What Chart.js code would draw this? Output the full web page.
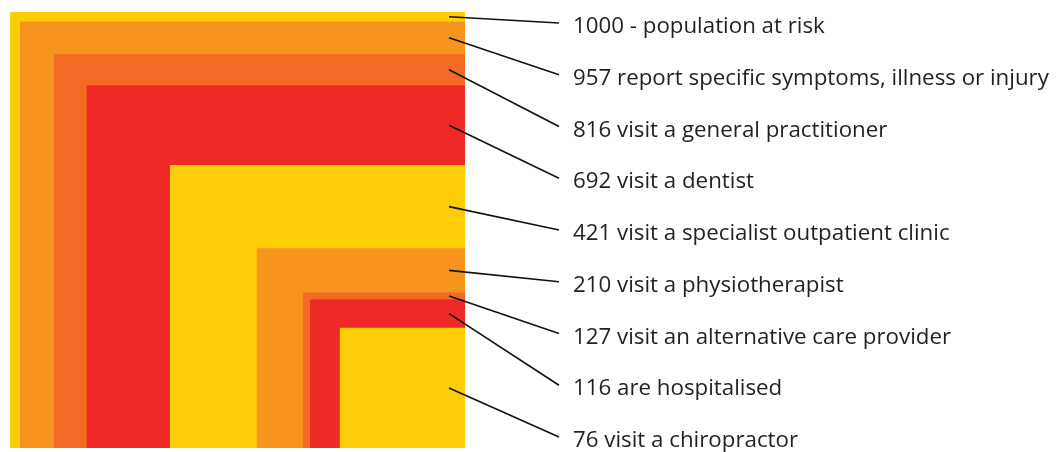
<!DOCTYPE html>
<html>
<head>
<meta charset="utf-8">
<script src="https://cdn.jsdelivr.net/npm/chart.js@4.4.1/dist/chart.umd.min.js"></script>
<style>
  html, body { margin: 0; padding: 0; background: #fff; }
  #wrap { width: 1057px; height: 452px; position: relative; }
</style>
</head>
<body>
<div id="wrap"><canvas id="myChart"></canvas></div>
<script>
// people out of 1000, each group drawn as a square anchored bottom-right
const values = [1000, 957, 816, 692, 421, 210, 127, 116, 76];
const descriptions = [
  '- population at risk',
  'report specific symptoms, illness or injury',
  'visit a general practitioner',
  'visit a dentist',
  'visit a specialist outpatient clinic',
  'visit a physiotherapist',
  'visit an alternative care provider',
  'are hospitalised',
  'visit a chiropractor'
];
const colors = ['#ffcc08', '#f7941e', '#f26a24', '#ee2a27', '#ffcc08', '#f7941e', '#f26a24', '#ee2a27', '#ffcc08'];

const total = values[0];
const sides = values.map(function (v) { return Math.sqrt(v / total); });

const datasets = values.map(function (v, i) {
  const s = sides[i];
  return {
    label: v + ' ' + descriptions[i],
    data: [{x: 1 - s, y: 0}, {x: 1 - s, y: s}, {x: 1, y: s}],
    backgroundColor: colors[i],
    borderColor: 'transparent',
    borderWidth: 0,
    pointRadius: 0,
    tension: 0,
    fill: 'origin',
    order: values.length - i
  };
});

const leaderLabels = {
  id: 'leaderLabels',
  afterDraw: function (chart) {
    const ctx = chart.ctx;
    const xs = chart.scales.x;
    const ys = chart.scales.y;
    const textX = 573;
    const firstBase = 33;
    const step = 51.75;
    ctx.save();
    // fit font so the longest label spans ~476px like the reference
    let size = 24;
    ctx.font = size + 'px "Open Sans"';
    let longest = 0;
    datasets.forEach(function (d) { longest = Math.max(longest, ctx.measureText(d.label).width); });
    size = size * 476 / longest;
    ctx.font = size + 'px "Open Sans"';
    ctx.fillStyle = '#231f20';
    ctx.strokeStyle = '#111';
    ctx.lineWidth = 1.6;
    ctx.textBaseline = 'alphabetic';
    values.forEach(function (v, i) {
      const top = ys.getPixelForValue(sides[i]);
      const bottom = i < values.length - 1 ? ys.getPixelForValue(sides[i + 1]) : ys.getPixelForValue(0);
      const sy = (top + bottom) / 2;
      const sx = xs.getPixelForValue(0.965);
      const base = firstBase + i * step;
      ctx.beginPath();
      ctx.moveTo(sx, sy);
      ctx.lineTo(559, base - 10);
      ctx.stroke();
      ctx.fillText(datasets[i].label, textX, base);
    });
    ctx.restore();
  }
};

new Chart(document.getElementById('myChart'), {
  type: 'line',
  data: { datasets: datasets },
  options: {
    responsive: true,
    maintainAspectRatio: false,
    animation: false,
    layout: { padding: { left: 10, right: 592, top: 12, bottom: 4 } },
    scales: {
      x: { type: 'linear', min: 0, max: 1, display: false },
      y: { type: 'linear', min: 0, max: 1, display: false }
    },
    plugins: {
      legend: { display: false },
      tooltip: { enabled: false }
    }
  },
  plugins: [leaderLabels]
});
</script>
</body>
</html>
